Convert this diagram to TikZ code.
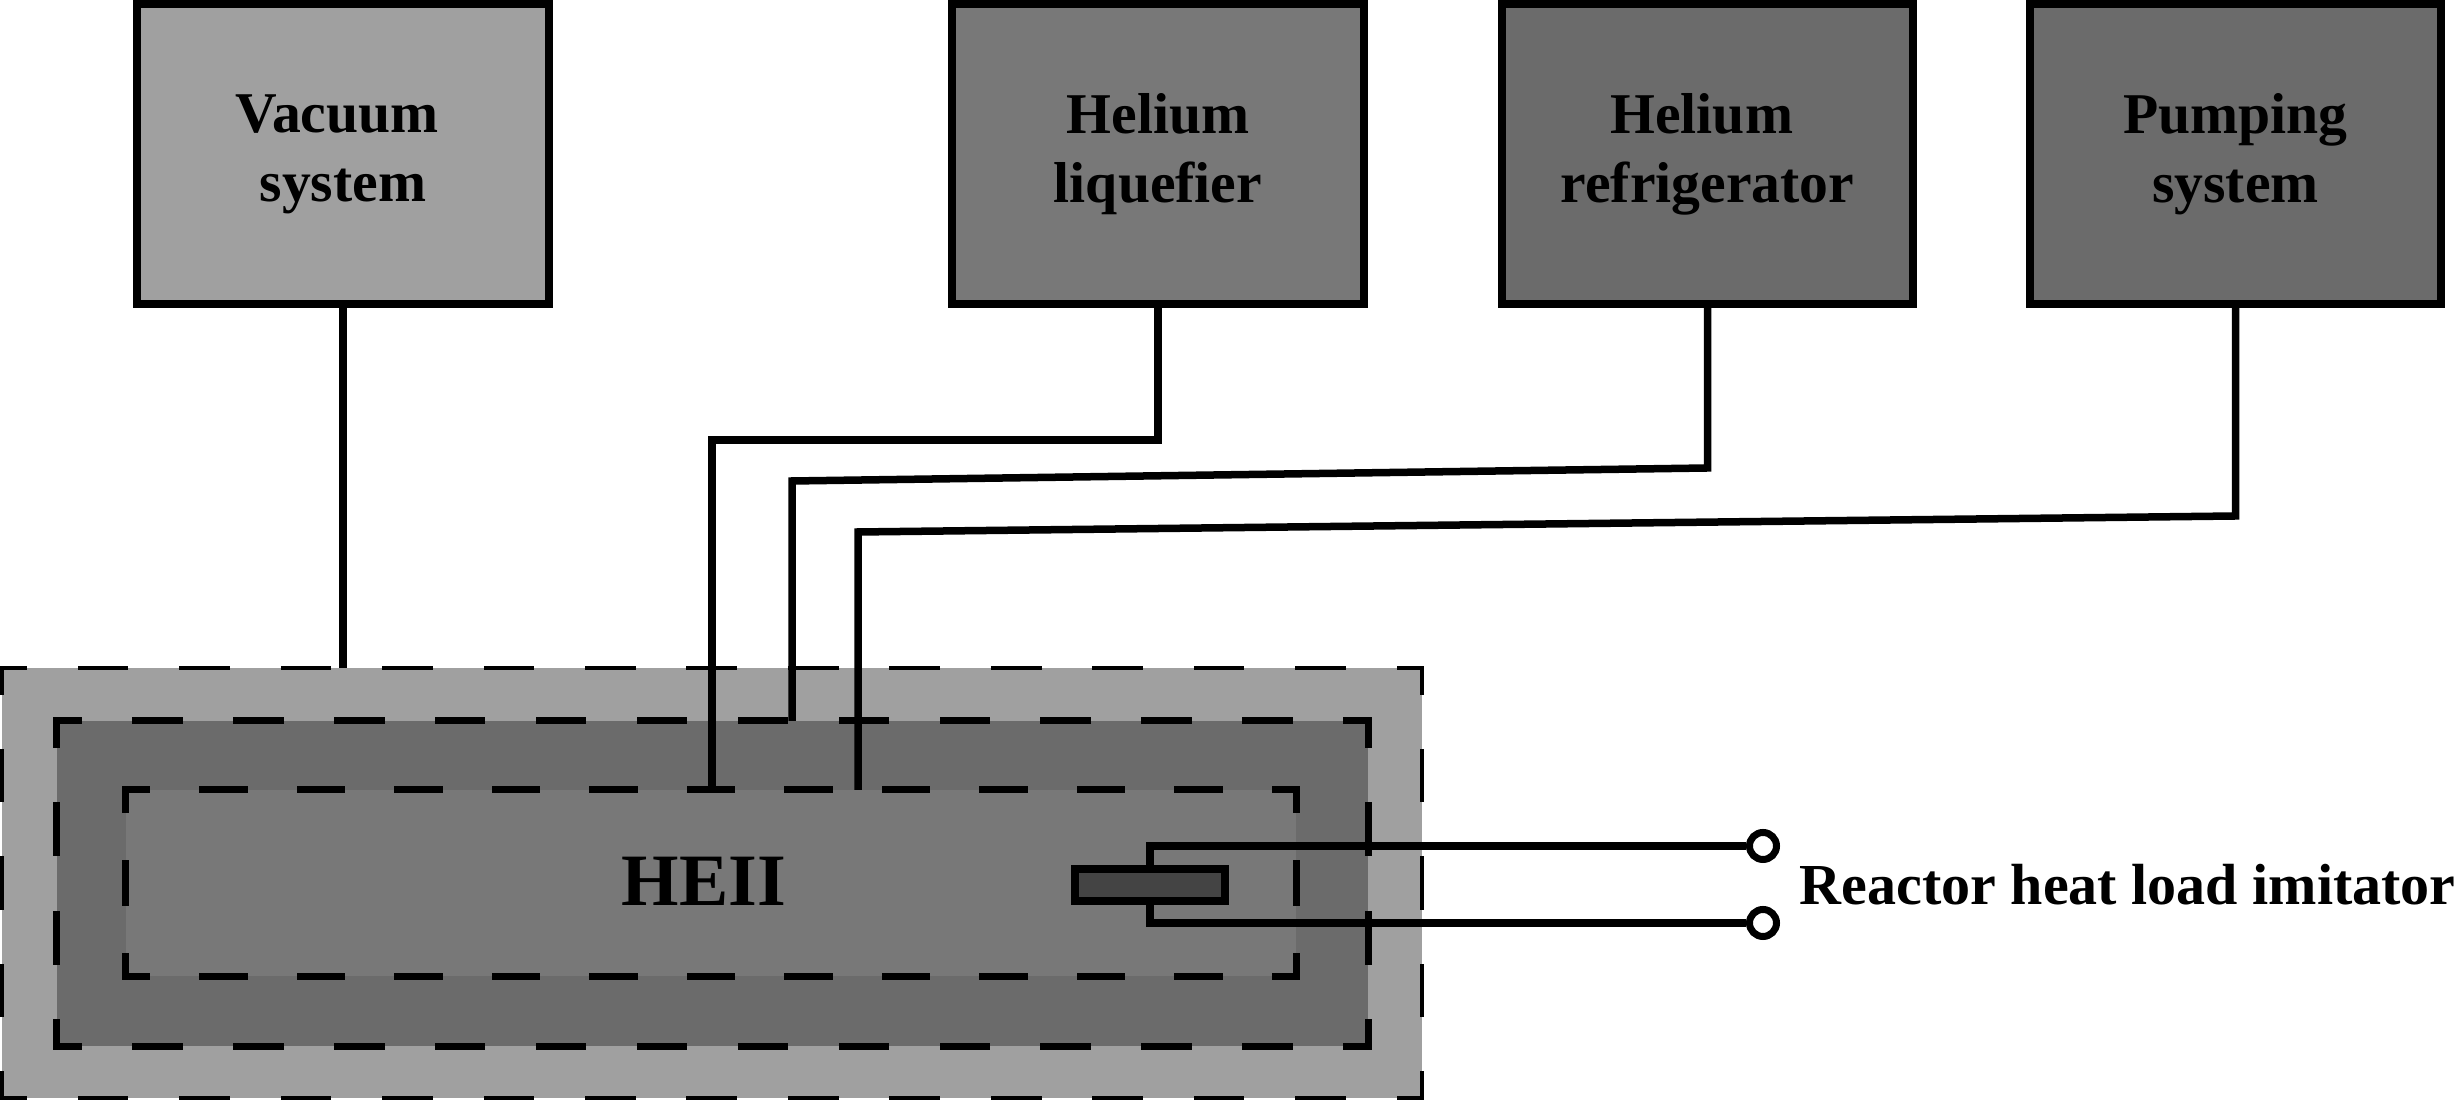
\documentclass[tikz,border=0pt]{standalone}
\usepackage{fontspec}
\setmainfont{Liberation Serif}
\definecolor{lightgr}{HTML}{A0A0A0}
\definecolor{midgr}{HTML}{787878}
\definecolor{darkgr}{HTML}{6B6B6B}
\definecolor{heatgr}{HTML}{444444}
\tikzset{
  unitbox/.style={draw=black,line width=0.08cm,minimum width=4.11cm,minimum height=3cm,inner sep=0,align=center,
    font=\fontsize{16.4}{19.6}\selectfont\bfseries},
  zone/.style={inner sep=0,outer sep=0},
  wire/.style={line width=0.075cm},
  terminal/.style={circle,draw=black,fill=white,line width=0.07cm,minimum size=0.27cm,inner sep=0}
}
\begin{document}
\begin{tikzpicture}[x=0.01cm,y=-0.01cm]
\useasboundingbox (0,0) rectangle (2456,1101);
% cryostat shells
\node[zone,fill=lightgr,minimum width=14.2cm,minimum height=4.3cm] (outerzone) at (712,883) {};
\node[zone,fill=darkgr,minimum width=13.11cm,minimum height=3.25cm] (midzone) at (712.5,883.5) {};
\node[zone,fill=midgr,minimum width=11.695cm,minimum height=1.86cm] (heiizone) at (711,883) {};
\foreach \zn/\lw/\hon/\hoff/\hph/\von/\voff/\vph in {outerzone/0.04/0.467/0.547/0.2335/0.4975/0.5775/0.249,
  midzone/0.07/0.434/0.5745/0.217/0.4717/0.6117/0.2358,
  heiizone/0.07/0.417/0.5576/0.2085/0.395/0.535/0.1975}{
  \draw[line width=\lw cm,line cap=rect,dash pattern=on \hon cm off \hoff cm,dash phase=\hph cm]
    (\zn.north west)--(\zn.north east) (\zn.south west)--(\zn.south east);
  \draw[line width=\lw cm,line cap=rect,dash pattern=on \von cm off \voff cm,dash phase=\vph cm]
    (\zn.north west)--(\zn.south west) (\zn.north east)--(\zn.south east);
}
% units
\node[unitbox,fill=lightgr] (vacuum) at (343,154) {Vacuum\hspace*{0.2em}\\system};
\node[unitbox,fill=midgr] (liquefier) at (1158,154) {Helium\\liquefier};
\node[unitbox,fill=darkgr] (refrig) at (1707.5,154) {Helium\hspace*{0.2em}\\refrigerator};
\node[unitbox,fill=darkgr] (pumping) at (2235.5,154) {Pumping\\system};
\node[font=\fontsize{21}{25}\selectfont\bfseries] (heii) at (704,881) {HEII};
% lines from the units
\coordinate (liqa) at (1158,440);
\coordinate (liqb) at (712,440);
\coordinate (refa) at (1707.5,468);
\coordinate (refb) at (792,481);
\coordinate (puma) at (2235.5,516);
\coordinate (pumb) at (858,532);
\draw[wire] (vacuum.south)--(vacuum.south|-outerzone.north);
\draw[wire] (liquefier.south)--(liqa)--(liqb)--(liqb|-heiizone.north);
\draw[wire] (refrig.south)--(refa)--(refb)--(refb|-midzone.north);
\draw[wire] (pumping.south)--(puma)--(pumb)--(pumb|-heiizone.north);
% heater and its leads
\node[draw=black,fill=heatgr,line width=0.08cm,minimum width=1.5cm,minimum height=0.32cm,inner sep=0] (heater) at (1150,885) {};
\node[terminal] (topterm) at (1763,846) {};
\node[terminal] (lowterm) at (1763,923) {};
\draw[wire] (heater.north)|-(topterm.west);
\draw[wire] (heater.south)|-(lowterm.west);
\node[anchor=base west,inner sep=0,font=\fontsize{16.5}{19.6}\selectfont\bfseries] (imitator) at (1799,905) {Reactor heat load imitator};
\end{tikzpicture}
\end{document}
